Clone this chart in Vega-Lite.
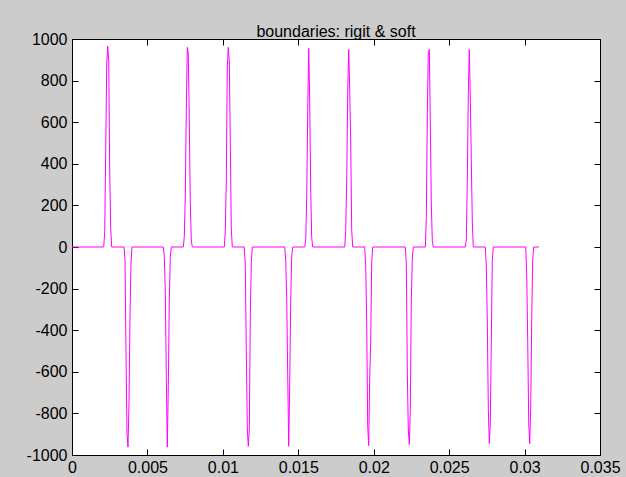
{
  "$schema": "https://vega.github.io/schema/vega-lite/v6.json",
  "width": 528,
  "height": 416,
  "autosize": {"type": "none"},
  "padding": {"left": 72, "top": 39, "right": 26, "bottom": 22},
  "background": "#cccccc",
  "config": {
    "view": {"fill": "white", "stroke": null},
    "font": "Liberation Sans",
    "axis": {
      "domainColor": "#000000",
      "domainWidth": 1,
      "tickColor": "#000000",
      "tickWidth": 1,
      "tickSize": -6,
      "grid": false,
      "labelFont": "Liberation Sans",
      "labelFontSize": 16,
      "labelColor": "#000000",
      "labelFlush": false,
      "labelOverlap": false,
      "title": null
    }
  },
  "title": {
    "text": "boundaries: rigit & soft",
    "font": "Liberation Sans",
    "fontSize": 16,
    "fontWeight": "normal",
    "color": "#000000",
    "anchor": "middle",
    "baseline": "alphabetic",
    "offset": 6,
    "dy": 28
  },
  "data": {
    "values": [
      {"t": 0, "v": 0},
      {"t": 0.002103, "v": 0}, {"t": 0.002169, "v": 75}, {"t": 0.002235, "v": 460}, {"t": 0.002301, "v": 875}, {"t": 0.002367, "v": 966}, {"t": 0.002433, "v": 900}, {"t": 0.002499, "v": 370}, {"t": 0.002565, "v": 90}, {"t": 0.002631, "v": 0},
      {"t": 0.003448, "v": 0}, {"t": 0.003514, "v": -62}, {"t": 0.00358, "v": -510}, {"t": 0.003646, "v": -895}, {"t": 0.003712, "v": -962}, {"t": 0.003778, "v": -750}, {"t": 0.003844, "v": -337}, {"t": 0.00391, "v": -77}, {"t": 0.003976, "v": 0},
      {"t": 0.006054, "v": 0}, {"t": 0.00612, "v": -47}, {"t": 0.006186, "v": -221}, {"t": 0.006252, "v": -624}, {"t": 0.006318, "v": -962}, {"t": 0.006384, "v": -671}, {"t": 0.00645, "v": -255}, {"t": 0.006516, "v": -47}, {"t": 0.006582, "v": 0},
      {"t": 0.007379, "v": 0}, {"t": 0.007445, "v": 50}, {"t": 0.007511, "v": 250}, {"t": 0.007577, "v": 658}, {"t": 0.007643, "v": 960}, {"t": 0.007709, "v": 931}, {"t": 0.007775, "v": 610}, {"t": 0.007841, "v": 212}, {"t": 0.007907, "v": 34}, {"t": 0.007973, "v": 0},
      {"t": 0.010097, "v": 0}, {"t": 0.010163, "v": 80}, {"t": 0.010229, "v": 322}, {"t": 0.010295, "v": 867}, {"t": 0.010361, "v": 960}, {"t": 0.010427, "v": 891}, {"t": 0.010493, "v": 506}, {"t": 0.010559, "v": 91}, {"t": 0.010625, "v": 0},
      {"t": 0.011423, "v": 0}, {"t": 0.011489, "v": -95}, {"t": 0.011555, "v": -510}, {"t": 0.011621, "v": -871}, {"t": 0.011687, "v": -958}, {"t": 0.011753, "v": -880}, {"t": 0.011819, "v": -335}, {"t": 0.011885, "v": -75}, {"t": 0.011951, "v": 0},
      {"t": 0.014101, "v": 0}, {"t": 0.014167, "v": -62}, {"t": 0.014233, "v": -239}, {"t": 0.014299, "v": -615}, {"t": 0.014365, "v": -958}, {"t": 0.014431, "v": -663}, {"t": 0.014497, "v": -263}, {"t": 0.014563, "v": -47}, {"t": 0.014629, "v": 0},
      {"t": 0.015427, "v": 0}, {"t": 0.015493, "v": 34}, {"t": 0.015559, "v": 242}, {"t": 0.015625, "v": 650}, {"t": 0.015691, "v": 955}, {"t": 0.015757, "v": 700}, {"t": 0.015823, "v": 280}, {"t": 0.015889, "v": 45}, {"t": 0.015955, "v": 0},
      {"t": 0.018079, "v": 0}, {"t": 0.018145, "v": 80}, {"t": 0.018211, "v": 322}, {"t": 0.018277, "v": 747}, {"t": 0.018343, "v": 950}, {"t": 0.018409, "v": 755}, {"t": 0.018475, "v": 500}, {"t": 0.018541, "v": 80}, {"t": 0.018607, "v": 0},
      {"t": 0.019404, "v": 0}, {"t": 0.01947, "v": -95}, {"t": 0.019536, "v": -366}, {"t": 0.019602, "v": -864}, {"t": 0.019668, "v": -955}, {"t": 0.019734, "v": -625}, {"t": 0.0198, "v": -460}, {"t": 0.019866, "v": -75}, {"t": 0.019932, "v": 0},
      {"t": 0.022096, "v": 0}, {"t": 0.022162, "v": -87}, {"t": 0.022228, "v": -606}, {"t": 0.022294, "v": -880}, {"t": 0.02236, "v": -950}, {"t": 0.022426, "v": -783}, {"t": 0.022492, "v": -255}, {"t": 0.022558, "v": -55}, {"t": 0.022624, "v": 0},
      {"t": 0.023422, "v": 0}, {"t": 0.023488, "v": 146}, {"t": 0.023554, "v": 643}, {"t": 0.02362, "v": 939}, {"t": 0.023686, "v": 950}, {"t": 0.023752, "v": 595}, {"t": 0.023818, "v": 210}, {"t": 0.023884, "v": 30}, {"t": 0.02395, "v": 0},
      {"t": 0.026073, "v": 0}, {"t": 0.026139, "v": 34}, {"t": 0.026205, "v": 322}, {"t": 0.026271, "v": 739}, {"t": 0.026337, "v": 950}, {"t": 0.026403, "v": 720}, {"t": 0.026469, "v": 420}, {"t": 0.026535, "v": 120}, {"t": 0.026601, "v": 0},
      {"t": 0.027399, "v": 0}, {"t": 0.027465, "v": -95}, {"t": 0.027531, "v": -366}, {"t": 0.027597, "v": -775}, {"t": 0.027663, "v": -945}, {"t": 0.027729, "v": -846}, {"t": 0.027795, "v": -455}, {"t": 0.027861, "v": -62}, {"t": 0.027927, "v": 0},
      {"t": 0.030077, "v": 0}, {"t": 0.030143, "v": -135}, {"t": 0.030209, "v": -455}, {"t": 0.030275, "v": -846}, {"t": 0.030341, "v": -945}, {"t": 0.030407, "v": -775}, {"t": 0.030473, "v": -350}, {"t": 0.030539, "v": -62}, {"t": 0.030605, "v": 0},
      {"t": 0.03096, "v": 0}
    ]
  },
  "layer": [
    {
      "mark": {"type": "line", "color": "#ff00ff", "strokeWidth": 1, "interpolate": "linear"},
      "encoding": {
        "x": {
          "field": "t", "type": "quantitative",
          "scale": {"domain": [0, 0.035], "nice": false, "zero": false},
          "axis": {"orient": "bottom", "values": [0, 0.005, 0.01, 0.015, 0.02, 0.025, 0.03, 0.035], "labelExpr": "'' + datum.value", "labelPadding": 10}
        },
        "y": {
          "field": "v", "type": "quantitative",
          "scale": {"domain": [-1000, 1000], "nice": false, "zero": false},
          "axis": {"orient": "left", "values": [-1000, -800, -600, -400, -200, 0, 200, 400, 600, 800, 1000], "labelExpr": "'' + datum.value", "labelPadding": 11}
        }
      }
    },
    {
      "mark": {"type": "line", "opacity": 0},
      "encoding": {
        "x": {
          "field": "t", "type": "quantitative",
          "scale": {"domain": [0, 0.035], "nice": false, "zero": false},
          "axis": {"orient": "top", "values": [0, 0.005, 0.01, 0.015, 0.02, 0.025, 0.03, 0.035], "labels": false}
        },
        "y": {
          "field": "v", "type": "quantitative",
          "scale": {"domain": [-1000, 1000], "nice": false, "zero": false},
          "axis": {"orient": "right", "values": [-1000, -800, -600, -400, -200, 0, 200, 400, 600, 800, 1000], "labels": false}
        }
      }
    }
  ],
  "resolve": {
    "scale": {"x": "independent", "y": "independent"},
    "axis": {"x": "independent", "y": "independent"}
  }
}
